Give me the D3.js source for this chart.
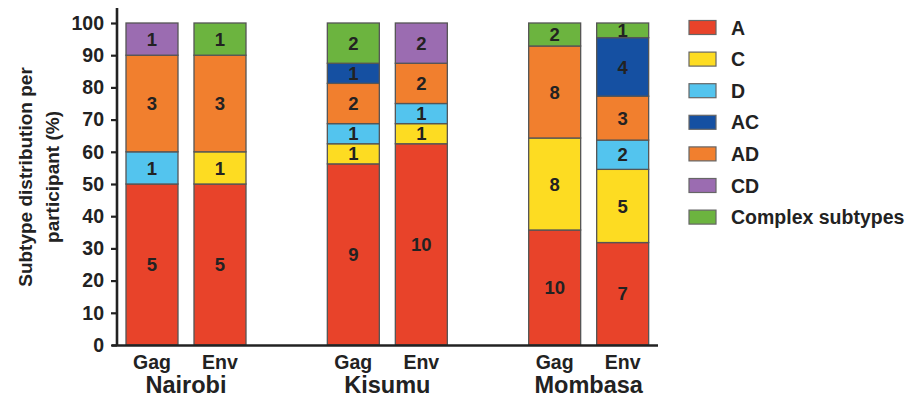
<!DOCTYPE html>
<html><head><meta charset="utf-8">
<script src="https://cdn.jsdelivr.net/npm/d3@7"></script>
<style>body{margin:0;background:#fff}svg{display:block;font-family:Arial,"Liberation Sans",sans-serif;font-weight:bold}</style>
</head><body><svg id="c" width="923" height="403"></svg>
<script>
const sites = ["Nairobi", "Kisumu", "Mombasa"];
const genes = ["Gag", "Env"];
const subtypes = ["A", "C", "D", "AC", "AD", "CD", "Complex subtypes"];
const stackOrder = ["A", "C", "D", "AD", "AC", "CD", "Complex subtypes"];
const colors = ["#E8432A", "#FDDC22", "#53C4EE", "#1550A2", "#F17F2E", "#9B6CB1", "#6CB43F"];
// counts per bar (site, gene)
const counts = [
  {site: "Nairobi", gene: "Gag", A: 5, C: 0, D: 1, AC: 0, AD: 3, CD: 1, "Complex subtypes": 0},
  {site: "Nairobi", gene: "Env", A: 5, C: 1, D: 0, AC: 0, AD: 3, CD: 0, "Complex subtypes": 1},
  {site: "Kisumu", gene: "Gag", A: 9, C: 1, D: 1, AC: 1, AD: 2, CD: 0, "Complex subtypes": 2},
  {site: "Kisumu", gene: "Env", A: 10, C: 1, D: 1, AC: 0, AD: 2, CD: 2, "Complex subtypes": 0},
  {site: "Mombasa", gene: "Gag", A: 10, C: 8, D: 0, AC: 0, AD: 8, CD: 0, "Complex subtypes": 2},
  {site: "Mombasa", gene: "Env", A: 7, C: 5, D: 2, AC: 4, AD: 3, CD: 0, "Complex subtypes": 1}
];
const yTicks = [0, 10, 20, 30, 40, 50, 60, 70, 80, 90, 100];

const svg = d3.select("#c");
const color = d3.scaleOrdinal().domain(subtypes).range(colors);
const y = d3.scaleLinear().domain([0, 100]).range([345, 23]);
const xSite = d3.scaleBand().domain(sites).range([118, 722]).paddingInner(0).paddingOuter(0);
const xGene = d3.scaleBand().domain(genes).range([8, 128]).paddingInner(16 / 68).paddingOuter(0);

const pct = counts.map(d => {
  const tot = stackOrder.reduce((s, k) => s + d[k], 0);
  const o = {site: d.site, gene: d.gene, _c: d};
  stackOrder.forEach(k => o[k] = d[k] / tot * 100);
  return o;
});
const series = d3.stack().keys(stackOrder)(pct);

const barX = d => xSite(d.data.site) + xGene(d.data.gene);
const g = svg.append("g");
series.forEach(s => {
  s.forEach(d => {
    if (d[1] - d[0] <= 0) return;
    g.append("rect")
      .attr("x", barX(d)).attr("width", xGene.bandwidth())
      .attr("y", y(d[1])).attr("height", y(d[0]) - y(d[1]))
      .attr("fill", color(s.key)).attr("stroke", "#555").attr("stroke-width", 1.3);
  });
});
series.forEach(s => {
  s.forEach(d => {
    if (d[1] - d[0] <= 0) return;
    const h = y(d[0]) - y(d[1]);
    g.append("text")
      .attr("x", barX(d) + xGene.bandwidth() / 2)
      .attr("y", (y(d[0]) + y(d[1])) / 2)
      .attr("dy", "0.36em").attr("text-anchor", "middle")
      .attr("font-size", h < 10 ? 14 : 18.5).attr("fill", "#222")
      .text(d.data._c[s.key]);
  });
});

// y axis
const yAxis = svg.append("g").attr("transform", "translate(117,0)")
  .call(d3.axisLeft(y).tickValues(yTicks).tickSize(6).tickPadding(7).tickSizeOuter(0));
yAxis.select(".domain").remove();
yAxis.selectAll(".tick line").attr("stroke", "#222").attr("stroke-width", 2.2);
yAxis.selectAll(".tick text").attr("font-size", 19.5).attr("font-family", "Arial,'Liberation Sans',sans-serif").attr("font-weight", "bold").attr("fill", "#222");
svg.append("line").attr("x1", 117).attr("x2", 117).attr("y1", 8).attr("y2", 346).attr("stroke", "#222").attr("stroke-width", 2.6);
svg.append("line").attr("x1", 112).attr("x2", 658).attr("y1", 345.5).attr("y2", 345.5).attr("stroke", "#222").attr("stroke-width", 2.6);

// y label
const yl = svg.append("text").attr("transform", "translate(0,177) rotate(-90)")
  .attr("text-anchor", "middle").attr("font-size", 19).attr("fill", "#222");
yl.append("tspan").attr("x", 0).attr("y", 31.5).text("Subtype distribution per");
yl.append("tspan").attr("x", 0).attr("y", 58.5).text("participant (%)");

// x labels
counts.forEach(d => {
  svg.append("text").attr("x", xSite(d.site) + xGene(d.gene) + xGene.bandwidth() / 2)
    .attr("y", 369).attr("text-anchor", "middle").attr("font-size", 19.5).attr("fill", "#222").text(d.gene);
});
sites.forEach(s => {
  svg.append("text").attr("x", xSite(s) + xGene(genes[0]) + (xGene(genes[1]) + xGene.bandwidth() - xGene(genes[0])) / 2)
    .attr("y", 393).attr("text-anchor", "middle").attr("font-size", 23.5).attr("fill", "#222").text(s);
});

// legend
const lg = svg.append("g");
subtypes.forEach((k, i) => {
  const cy = 27.5 + i * 31.6;
  lg.append("rect").attr("x", 689).attr("y", cy - 7).attr("width", 27).attr("height", 14)
    .attr("fill", color(k)).attr("stroke", "#666").attr("stroke-width", 1.2);
  lg.append("text").attr("x", 731).attr("y", cy).attr("dy", "0.36em")
    .attr("font-size", 19.5).attr("fill", "#222").text(k);
});
</script></body></html>
